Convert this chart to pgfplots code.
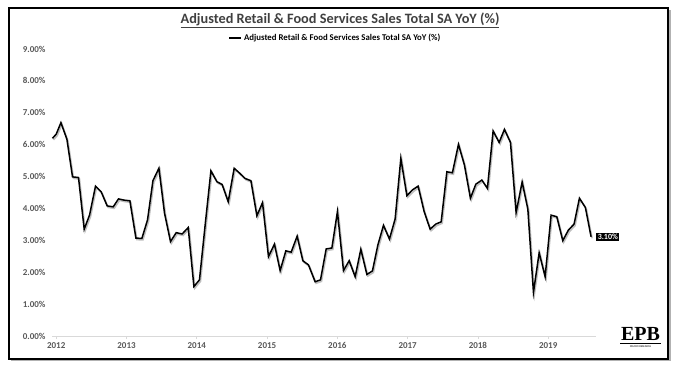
\documentclass[border=0pt]{standalone}
\usepackage{pgfplots}
\pgfplotsset{compat=1.18}
\usepackage{pgfplotstable}
\usepackage{fontspec}
\setmainfont{Carlito}
\newfontfamily\epbfont{Liberation Serif}
\definecolor{titlegray}{HTML}{404040}
\definecolor{tickgray}{HTML}{595959}
\definecolor{axisgray}{HTML}{D9D9D9}

\pgfplotstableread{
x y
2011.947 6.20
2012.000 6.33
2012.067 6.69
2012.152 6.17
2012.232 4.99
2012.317 4.97
2012.398 3.35
2012.474 3.79
2012.559 4.70
2012.640 4.52
2012.725 4.08
2012.811 4.05
2012.886 4.30
2012.967 4.26
2013.048 4.24
2013.134 3.07
2013.219 3.06
2013.299 3.64
2013.376 4.87
2013.461 5.26
2013.541 3.85
2013.626 2.96
2013.707 3.24
2013.792 3.20
2013.878 3.40
2013.959 1.55
2014.038 1.76
2014.120 3.50
2014.201 5.18
2014.286 4.84
2014.361 4.75
2014.447 4.21
2014.532 5.26
2014.613 5.10
2014.688 4.94
2014.770 4.87
2014.855 3.77
2014.935 4.18
2015.020 2.49
2015.105 2.88
2015.186 2.05
2015.267 2.67
2015.343 2.63
2015.428 3.13
2015.509 2.36
2015.589 2.23
2015.684 1.70
2015.760 1.76
2015.841 2.73
2015.922 2.76
2016.001 3.90
2016.087 2.05
2016.168 2.36
2016.253 1.86
2016.334 2.72
2016.420 1.93
2016.499 2.04
2016.576 2.85
2016.656 3.47
2016.741 3.04
2016.822 3.67
2016.903 5.57
2016.989 4.40
2017.068 4.58
2017.149 4.70
2017.235 3.90
2017.320 3.35
2017.401 3.51
2017.477 3.58
2017.558 5.15
2017.637 5.12
2017.723 6.01
2017.808 5.36
2017.893 4.32
2017.970 4.76
2018.056 4.89
2018.135 4.63
2018.216 6.43
2018.302 6.07
2018.377 6.48
2018.463 6.07
2018.543 3.87
2018.629 4.83
2018.710 3.98
2018.790 1.37
2018.871 2.61
2018.956 1.86
2019.041 3.79
2019.122 3.74
2019.207 2.99
2019.287 3.32
2019.368 3.51
2019.444 4.32
2019.529 4.03
2019.610 3.11
}\salesdata

\begin{document}
\begin{tikzpicture}
\path[fill=white] (0pt,0pt) rectangle (680pt,369pt);
\fill[black!30] (11pt,7.5pt) rectangle (670.5pt,359pt);
\draw[black, line width=2pt, fill=white] (9pt,10pt) rectangle (668pt,361pt);

\node[font=\fontsize{14.3}{16}\selectfont\bfseries, text=titlegray] at (340pt,349pt) {\underline{Adjusted Retail \& Food Services Sales Total SA YoY (\%)}};

\begin{axis}[
  at={(52pt,33pt)}, anchor=south west,
  scale only axis, width=544pt, height=287pt,
  xmin=2011.94, xmax=2019.68, ymin=0, ymax=9,
  clip=false,
  axis x line*=bottom, axis y line*=left,
  y axis line style={draw=none},
  x axis line style={axisgray, line width=0.8pt},
  xtick={2012,2013,2014,2015,2016,2017,2018,2019},
  xticklabels={2012,2013,2014,2015,2016,2017,2018,2019},
  xtick style={axisgray, line width=0.6pt},
  major tick length=3pt, tick align=outside,
  ytick={0,1,2,3,4,5,6,7,8,9},
  ytick style={draw=none},
  yticklabel={\pgfmathprintnumber[fixed,fixed zerofill,precision=2]{\tick}\%},
  /pgf/number format/assume math mode=true,
  tick label style={font=\fontsize{9}{10}\selectfont\bfseries, text=tickgray},
  yticklabel style={xshift=0pt},
  legend style={at={(0.521,1.038)}, anchor=center, draw=none, fill=none,
    font=\fontsize{8.8}{9}\selectfont\bfseries, text=black,
    inner sep=0pt, row sep=0pt},
  legend cell align=left,
  legend image code/.code={\draw[line width=1.5pt] (0pt,0pt) -- (12pt,0pt);},
]
\addplot[black!25, line width=1.6pt, forget plot, transform canvas={xshift=1pt,yshift=-1.5pt}] table[x=x,y=y] {\salesdata};
\addplot[black, line width=1.5pt, line join=miter] table[x=x,y=y] {\salesdata};
\addlegendentry{Adjusted Retail \& Food Services Sales Total SA YoY (\%)}
\node[fill=black, text=white, font=\fontsize{8}{9}\selectfont\bfseries, inner xsep=1.5pt, inner ysep=1.5pt, anchor=west, xshift=5pt] at (axis cs:2019.610,3.11) {3.10\%};
\end{axis}

\node[font=\epbfont\fontsize{20}{20}\selectfont\bfseries, anchor=base] at (640.5pt,28pt) {EPB};
\draw[black, line width=0.6pt] (620pt,25.5pt) -- (661pt,25.5pt);
\node[font=\fontsize{2.8}{3}\selectfont, anchor=center] at (640.5pt,22pt) {MACRO RESEARCH};
\end{tikzpicture}
\end{document}
